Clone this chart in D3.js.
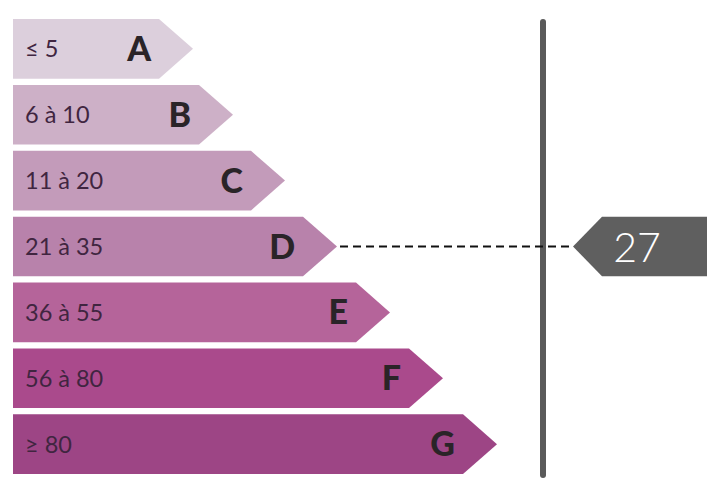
<!DOCTYPE html>
<html>
<head>
<meta charset="utf-8">
<script src="https://cdn.jsdelivr.net/npm/d3@7"></script>
<style>
  html, body { margin: 0; padding: 0; background: #fff; }
</style>
</head>
<body>
<div id="chart"></div>
<script>
// Étiquette énergie — classes A..G, valeur 27
const classes = ["A", "B", "C", "D", "E", "F", "G"];
const ranges  = ["≤ 5", "6 à 10", "11 à 20", "21 à 35", "36 à 55", "56 à 80", "≥ 80"];
const upper   = [5, 10, 20, 35, 55, 80, Infinity];   // borne haute de chaque classe
const barLen  = [180, 220, 272, 324, 377, 430, 484];  // longueur relative de chaque flèche
const colors  = ["#dccfdc", "#cdb0c7", "#c39bba", "#b882ab", "#b5649a", "#aa4a8c", "#9d4585"];
const value   = 27;

const W = 720, H = 484;
const svg = d3.select("#chart").append("svg").attr("width", W).attr("height", H);

const x = d3.scaleLinear().domain([0, 484]).range([13, 497]);
const y = d3.scaleBand().domain(classes).range([19, 474]).paddingInner(0.095).paddingOuter(0);
const tipDepth = 34;

// Flèches
const arrow = (x0, x1, y0, h) => {
  const xr = x1 - tipDepth;
  return `M${x0},${y0}H${xr}L${x1},${y0 + h / 2}L${xr},${y0 + h}H${x0}Z`;
};

const rows = classes.map((c, i) => ({ c, range: ranges[i], len: barLen[i], color: colors[i] }));
const g = svg.append("g");
g.selectAll("path.bar").data(rows).join("path")
  .attr("class", "bar")
  .attr("d", d => arrow(x(0), x(d.len), y(d.c), y.bandwidth()))
  .attr("fill", d => d.color);

g.selectAll("text.rng").data(rows).join("text")
  .attr("class", "rng")
  .attr("x", 25)
  .attr("y", d => y(d.c) + y.bandwidth() / 2 + 8.5)
  .style("font-family", "Lato, 'Open Sans', sans-serif")
  .style("font-size", "23.5px")
  .style("fill", "#402540")
  .text(d => d.range);

g.selectAll("text.cls").data(rows).join("text")
  .attr("class", "cls")
  .attr("x", d => x(d.len) - 42)
  .attr("y", d => y(d.c) + y.bandwidth() / 2 + 12)
  .attr("text-anchor", "end")
  .style("font-family", "Lato, 'DejaVu Sans', sans-serif")
  .style("font-weight", "900")
  .style("font-size", "34px")
  .style("fill", "#2a2428")
  .text(d => d.c);

// Classe de la valeur
const idx = upper.findIndex(u => value <= u);
const cur = rows[idx];
const cy = y(cur.c) + y.bandwidth() / 2;

// Ligne verticale
const vx = 543;
svg.append("line")
  .attr("x1", vx).attr("x2", vx).attr("y1", 22).attr("y2", 475)
  .attr("stroke", "#5a5a5a").attr("stroke-width", 6).attr("stroke-linecap", "round");

// Pointillés
const tagTip = 573;
svg.append("line")
  .attr("x1", x(cur.len) + 3).attr("x2", tagTip - 4).attr("y1", cy).attr("y2", cy)
  .attr("stroke", "#111").attr("stroke-width", 2).attr("stroke-dasharray", "8,5");

// Étiquette valeur
const tagR = 707, tagH = y.bandwidth(), tagTop = y(cur.c);
svg.append("path")
  .attr("d", `M${tagTip},${cy}L${tagTip + 29},${tagTop}H${tagR}V${tagTop + tagH}H${tagTip + 29}Z`)
  .attr("fill", "#5f5f5f");
svg.append("text")
  .attr("x", 637).attr("y", cy + 15)
  .attr("text-anchor", "middle")
  .style("font-family", "Lato, 'Open Sans', sans-serif")
  .style("font-weight", "300")
  .style("font-size", "41px")
  .style("fill", "#fff")
  .text(value);
</script>
</body>
</html>
